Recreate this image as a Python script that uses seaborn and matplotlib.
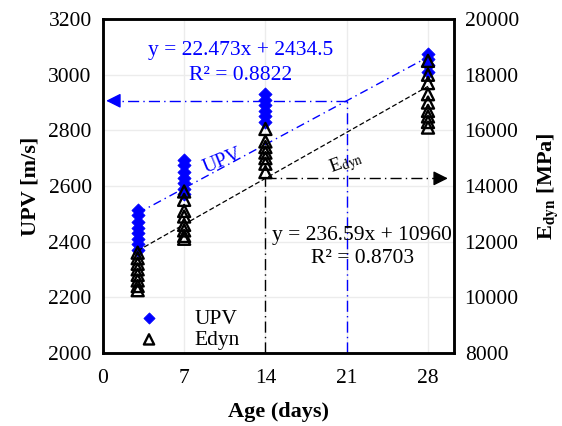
import numpy as np
import pandas as pd
import matplotlib
matplotlib.use("Agg")
import matplotlib.pyplot as plt
import seaborn as sns

sns.set_theme(style="white")
plt.rcParams['font.family'] = ['Liberation Serif', 'DejaVu Serif']
plt.rcParams['mathtext.fontset'] = 'stix'
plt.rcParams['text.color'] = 'black'
plt.rcParams['axes.labelcolor'] = 'black'
plt.rcParams['xtick.color'] = 'black'
plt.rcParams['ytick.color'] = 'black'

# ---- data ----
upv_days = [3]*8 + [7]*7 + [14]*6 + [28]*4
upv_vals = [2370, 2390, 2410, 2430, 2450, 2470, 2495, 2515,
            2570, 2590, 2610, 2630, 2650, 2675, 2695,
            2830, 2850, 2870, 2890, 2910, 2930,
            3010, 3035, 3055, 3075]
edyn_days = [3]*8 + [7]*8 + [14]*7 + [28]*9
edyn_vals = [10250, 10400, 10600, 10800, 11000, 11200, 11400, 11600,
             12100, 12200, 12400, 12600, 12900, 13100, 13500, 13800,
             14500, 14800, 15000, 15200, 15400, 15600, 16050,
             16100, 16300, 16500, 16700, 17000, 17300, 17700, 18000, 18500]
upv_fit = [22.473, 2434.5]
edyn_fit = [236.59, 10960]
fit_range = [3, 28]
x_ticks = [0, 7, 14, 21, 28]
upv_ticks = [2000, 2200, 2400, 2600, 2800, 3000, 3200]
edyn_ticks = [8000, 10000, 12000, 14000, 16000, 18000, 20000]

df_upv = pd.DataFrame({"Age": upv_days, "UPV": upv_vals})
df_e = pd.DataFrame({"Age": edyn_days, "Edyn": edyn_vals})

fig = plt.figure(figsize=(5.62, 4.26), dpi=100)
ax = fig.add_axes([0.183, 0.172, 0.624, 0.783])
ax2 = ax.twinx()

FS = 15.5

sns.scatterplot(data=df_upv, x="Age", y="UPV", ax=ax, marker="D", color="blue",
                edgecolor="blue", s=45, label="UPV", zorder=3, legend=False)
sns.scatterplot(data=df_e, x="Age", y="Edyn", ax=ax2, marker="^", facecolor="none",
                edgecolor="black", linewidth=1.7, s=75, label="Edyn", zorder=3, legend=False)

xf = np.array(fit_range, dtype=float)
ax.plot(xf, upv_fit[0]*xf + upv_fit[1], color="blue", ls=(0, (6, 3, 1, 3)), lw=1)
ax2.plot(xf, edyn_fit[0]*xf + edyn_fit[1], color="black", ls=(0, (4, 2)), lw=0.9)

# guide lines
u21 = upv_fit[0]*21 + upv_fit[1]
ax.plot([21, 21], [2000, u21], color="blue", ls=(0, (8, 3, 1, 3)), lw=1)
ax.plot([21, 0.9], [u21, u21], color="blue", ls=(0, (8, 3, 1, 3)), lw=1)
ax.annotate("", xy=(0.05, u21), xytext=(1.5, u21),
            arrowprops=dict(arrowstyle="-|>", color="blue", lw=1, mutation_scale=22))
e14 = edyn_fit[0]*14 + edyn_fit[1]
ax2.plot([14, 14], [8000, e14], color="black", ls=(0, (8, 3, 1, 3)), lw=1)
ax2.plot([14, 29.2], [e14, e14], color="black", ls=(0, (8, 3, 1, 3)), lw=1)
ax2.annotate("", xy=(29.95, e14), xytext=(28.5, e14),
             arrowprops=dict(arrowstyle="-|>", color="black", lw=1, mutation_scale=22))

# texts
ax.text(11.9, 3087, "y = 22.473x + 2434.5", color="blue", fontsize=FS, ha="center", va="center")
ax.text(11.9, 2997, "R² = 0.8822", color="blue", fontsize=FS, ha="center", va="center")
ax.text(10.3, 2690, "UPV", color="blue", fontsize=FS-1, ha="center", va="center", rotation=22)
ax.text(21.0, 2680, r"E$_{\rm dyn}$", color="black", fontsize=FS-1.5, ha="center", va="center", rotation=20)
ax.text(22.35, 2421, "y = 236.59x + 10960", color="black", fontsize=FS, ha="center", va="center")
ax.text(22.35, 2338, "R² = 0.8703", color="black", fontsize=FS, ha="center", va="center")

ax.set_xlim(0, 30.2)
ax.set_ylim(2000, 3200)
ax2.set_ylim(8000, 20000)
ax.set_xticks(x_ticks)
ax.set_yticks(upv_ticks)
ax2.set_yticks(edyn_ticks)
ax.grid(True, color="#ececec", lw=1)
ax2.grid(False)
ax.tick_params(axis="x", labelsize=FS, length=0, pad=12)
for a in (ax, ax2):
    a.tick_params(axis="y", labelsize=FS, length=0, pad=8)
    for s in a.spines.values():
        s.set_color("black")
        s.set_linewidth(1.8)

ax.set_xlabel("Age (days)", fontsize=16, fontweight="bold", labelpad=10)
ax.set_ylabel("UPV [m/s]", fontsize=16, fontweight="bold", labelpad=6)
ax2.set_ylabel(r"E$_{\mathbf{dyn}}$ [MPa]", fontsize=16, fontweight="bold", labelpad=12)

h1, l1 = ax.get_legend_handles_labels()
h2, l2 = ax2.get_legend_handles_labels()
ax2.legend(h1 + h2, ["UPV", "Edyn"], loc="lower left", bbox_to_anchor=(0.015, -0.05),
           frameon=False, fontsize=FS, handletextpad=1.1, labelspacing=0.05, markerscale=0.85)

fig.savefig("out.png", dpi=100)
